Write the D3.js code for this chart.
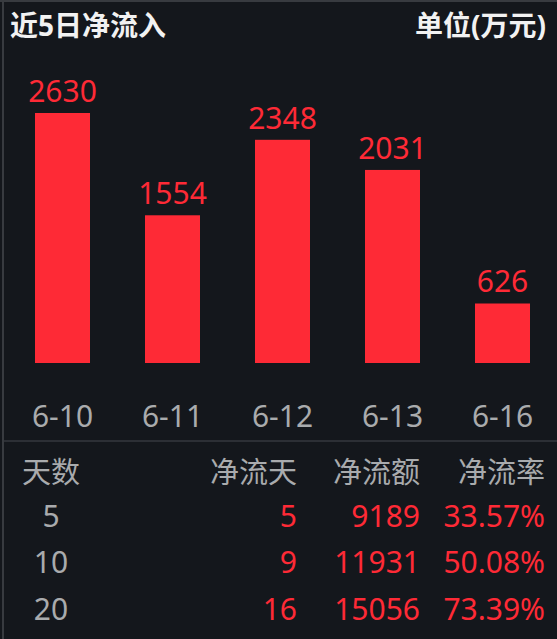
<!DOCTYPE html>
<html>
<head>
<meta charset="utf-8">
<script src="https://cdn.jsdelivr.net/npm/d3@7"></script>
<style>
  html, body { margin: 0; padding: 0; background: #14171c; }
  svg { display: block; }
  text { font-family: "Noto Sans", "Noto Sans CJK SC", sans-serif; }
</style>
</head>
<body>
<div id="container"></div>
<script>
// bar data
var dates = ["6-10", "6-11", "6-12", "6-13", "6-16"];
var inflows = [2630, 1554, 2348, 2031, 626];

// table data
var tableHeaders = ["天数", "净流天", "净流额", "净流率"];
var periods = ["5", "10", "20"];
var flowDays = ["5", "9", "16"];
var flowAmounts = ["9189", "11931", "15056"];
var flowRates = ["33.57%", "50.08%", "73.39%"];

var width = 557, height = 639;
var red = "#fe2a36";
var grey = "#a9abad";

var svg = d3.select("#container").append("svg")
    .attr("width", width)
    .attr("height", height);

// frame lines
svg.append("line")
    .attr("x1", 0).attr("x2", width)
    .attr("y1", 1).attr("y2", 1)
    .attr("stroke", "#383b40").attr("stroke-width", 2);
svg.append("line")
    .attr("x1", 3).attr("x2", 3)
    .attr("y1", 0).attr("y2", height)
    .attr("stroke", "#383b40").attr("stroke-width", 2);

// titles
svg.append("text")
    .attr("x", 10).attr("y", 36)
    .attr("fill", "#f2f2f2")
    .style("font-size", "28px")
    .style("font-weight", "bold")
    .text("近5日净流入");
svg.append("text")
    .attr("x", 546).attr("y", 36)
    .attr("text-anchor", "end")
    .attr("fill", "#f2f2f2")
    .style("font-size", "28px")
    .style("font-weight", "bold")
    .text("单位(万元)");

// scales
var x = d3.scaleBand()
    .domain(dates)
    .range([7.5, 557.5])
    .paddingInner(0.5)
    .paddingOuter(0.25);
var y = d3.scaleLinear()
    .domain([0, d3.max(inflows)])
    .range([363, 113]);

var data = dates.map(function(d, i) { return {date: d, value: inflows[i]}; });

// bars
svg.selectAll(".bar")
    .data(data).enter()
    .append("rect")
    .attr("class", "bar")
    .attr("x", function(d) { return x(d.date); })
    .attr("y", function(d) { return y(d.value); })
    .attr("width", x.bandwidth())
    .attr("height", function(d) { return y(0) - y(d.value); })
    .attr("fill", red);

// value labels
svg.selectAll(".val")
    .data(data).enter()
    .append("text")
    .attr("class", "val")
    .attr("x", function(d) { return x(d.date) + x.bandwidth() / 2; })
    .attr("y", function(d) { return y(d.value) - 11; })
    .attr("text-anchor", "middle")
    .attr("fill", red)
    .style("font-size", "30px")
    .text(function(d) { return d.value; });

// date axis
var xAxis = svg.append("g")
    .attr("transform", "translate(0,427)")
    .call(d3.axisBottom(x).tickSize(0).tickPadding(0));
xAxis.select(".domain").remove();
xAxis.selectAll("text")
    .attr("dy", null)
    .attr("y", 0)
    .attr("fill", grey)
    .style("font-size", "30px")
    .style("font-family", "\"Noto Sans\", sans-serif");

// separator
svg.append("line")
    .attr("x1", 4).attr("x2", width)
    .attr("y1", 441).attr("y2", 441)
    .attr("stroke", "#2c2f35").attr("stroke-width", 2);

// table
var colX = [51, 297, 420, 545];
var colAnchor = ["middle", "end", "end", "end"];
var rowY = [483, 527, 573, 620];

svg.selectAll(".th")
    .data(tableHeaders).enter()
    .append("text")
    .attr("class", "th")
    .attr("x", function(d, i) { return colX[i]; })
    .attr("y", rowY[0])
    .attr("text-anchor", function(d, i) { return colAnchor[i]; })
    .attr("fill", grey)
    .style("font-size", "29px")
    .style("font-family", "\"Noto Sans CJK SC\", sans-serif")
    .text(function(d) { return d; });

var rows = periods.map(function(p, i) {
    return [p, flowDays[i], flowAmounts[i], flowRates[i]];
});

rows.forEach(function(row, r) {
    svg.selectAll(".row" + r)
        .data(row).enter()
        .append("text")
        .attr("x", function(d, i) { return colX[i]; })
        .attr("y", rowY[r + 1])
        .attr("text-anchor", function(d, i) { return colAnchor[i]; })
        .attr("fill", function(d, i) { return i == 0 ? grey : red; })
        .style("font-size", "30px")
        .text(function(d) { return d; });
});
</script>
</body>
</html>
